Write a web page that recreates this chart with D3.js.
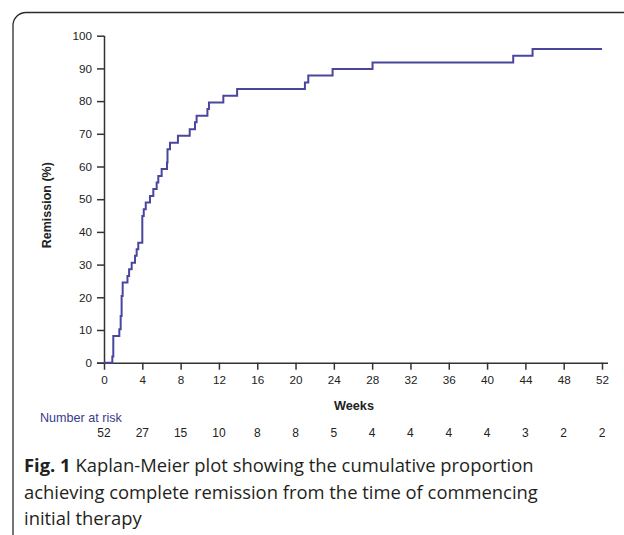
<!DOCTYPE html>
<html lang="en">
<head>
  <meta charset="utf-8" />
  <title>Kaplan-Meier remission plot</title>
  <script src="https://d3js.org/d3.v7.min.js"></script>
  <style>
    body {
      margin: 0;
      padding: 0;
      background: #ffffff;
    }
    #chart {
      width: 624px;
      height: 535px;
    }
    .axis path,
    .axis line {
      stroke: #333;
      stroke-width: 1.5px;
    }
    .axis text {
      font-family: "Liberation Sans", Arial, sans-serif;
      font-size: 11.7px;
      fill: #222;
    }
    .caption {
      font-family: "Open Sans", "Noto Sans", sans-serif;
      font-size: 18.4px;
      fill: #231f20;
    }
  </style>
</head>
<body>
<div id="chart"></div>

<script>
// ---- data ----
// step times in weeks and cumulative remission (%) after each step
const stepWeeks = [0, 0.87, 0.97, 1.6, 1.74, 1.84, 1.95, 2.45, 2.62, 2.89, 3.24, 3.41, 3.58,
                   4.0, 4.15, 4.36, 4.8, 5.15, 5.5, 5.67, 6.02, 6.58, 6.63, 6.89, 7.72,
                   8.95, 9.5, 9.67, 10.8, 10.96, 12.46, 13.9, 20.98, 21.33, 23.87, 28.04,
                   42.73, 44.75];
const remission = [0, 1.9, 8.2, 10.2, 14.3, 20.4, 24.5, 26.5, 28.6, 30.6, 32.7, 34.7, 36.7,
                   44.9, 46.9, 49.0, 51.0, 53.1, 55.1, 57.1, 59.2, 61.2, 65.3, 67.3, 69.4,
                   71.4, 73.5, 75.5, 77.6, 79.6, 81.6, 83.7, 85.7, 87.8, 89.8, 91.8,
                   93.9, 95.9];
const lastWeek = 52;

const xTicks = [0, 4, 8, 12, 16, 20, 24, 28, 32, 36, 40, 44, 48, 52];
const yTicks = [0, 10, 20, 30, 40, 50, 60, 70, 80, 90, 100];
const atRisk = [52, 27, 15, 10, 8, 8, 5, 4, 4, 4, 4, 3, 2, 2];

const captionLines = [
  ["Fig. 1", " Kaplan-Meier plot showing the cumulative proportion"],
  ["", "achieving complete remission from the time of commencing"],
  ["", "initial therapy"]
];

// ---- setup ----
const W = 624, H = 535;
const svg = d3.select("#chart").append("svg")
  .attr("width", W)
  .attr("height", H);

// frame of the figure box
svg.append("path")
  .attr("d", "M624,12.5 H26 A13,13 0 0 0 13,25.5 V540")
  .attr("fill", "none")
  .attr("stroke", "#2b2b2b")
  .attr("stroke-width", 1.3);

const x = d3.scaleLinear().domain([0, 52]).range([104, 602]);
const y = d3.scaleLinear().domain([0, 100]).range([362.7, 35.7]);

// ---- axes ----
const xAxis = svg.append("g")
  .attr("class", "axis")
  .attr("transform", `translate(0,${y(0)})`)
  .call(d3.axisBottom(x).tickValues(xTicks).tickSize(7).tickPadding(6).tickSizeOuter(0));
xAxis.select(".domain").attr("d", `M${x(0) - 7},0.5H${x(52) + 6}`);

const yAxis = svg.append("g")
  .attr("class", "axis")
  .attr("transform", `translate(${x(0)},0)`)
  .call(d3.axisLeft(y).tickValues(yTicks).tickSize(7).tickPadding(5).tickSizeOuter(0));
yAxis.select(".domain").attr("d", `M0.5,${y(100)}V${y(0)}`);

// axis titles
svg.append("text")
  .attr("transform", `translate(51,${(y(0) + y(100)) / 2 + 6}) rotate(-90)`)
  .attr("text-anchor", "middle")
  .style("font-family", "'Liberation Sans', Arial, sans-serif")
  .style("font-size", "12.5px")
  .style("font-weight", "bold")
  .style("fill", "#222")
  .text("Remission (%)");

svg.append("text")
  .attr("x", (x(0) + x(52)) / 2 + 1)
  .attr("y", 409.5)
  .attr("text-anchor", "middle")
  .style("font-family", "'Liberation Sans', Arial, sans-serif")
  .style("font-size", "12.7px")
  .style("font-weight", "bold")
  .style("fill", "#222")
  .text("Weeks");

// ---- KM step curve ----
const pts = stepWeeks.map((w, i) => [w, remission[i]]);
pts.push([lastWeek, remission[remission.length - 1]]);

const line = d3.line()
  .x(d => x(d[0]))
  .y(d => y(d[1]))
  .curve(d3.curveStepAfter);

svg.append("path")
  .datum(pts)
  .attr("fill", "none")
  .attr("stroke", "#4a469e")
  .attr("stroke-width", 2)
  .attr("d", line);

// ---- number at risk ----
svg.append("text")
  .attr("x", 40)
  .attr("y", 421.5)
  .style("font-family", "'Liberation Sans', Arial, sans-serif")
  .style("font-size", "12.6px")
  .style("fill", "#3c3a8c")
  .text("Number at risk");

svg.selectAll(".risk")
  .data(atRisk)
  .enter()
  .append("text")
    .attr("class", "risk")
    .attr("x", (d, i) => x(xTicks[i]))
    .attr("y", 437)
    .attr("text-anchor", "middle")
    .style("font-family", "'Liberation Sans', Arial, sans-serif")
    .style("font-size", "12px")
    .style("fill", "#222")
    .text(d => d);

// ---- caption ----
captionLines.forEach((ln, i) => {
  const t = svg.append("text")
    .attr("class", "caption")
    .attr("x", 24)
    .attr("y", 472 + i * 26.5);
  if (ln[0]) t.append("tspan").style("font-weight", "bold").text(ln[0]);
  t.append("tspan").text(ln[1]);
});
</script>
</body>
</html>
